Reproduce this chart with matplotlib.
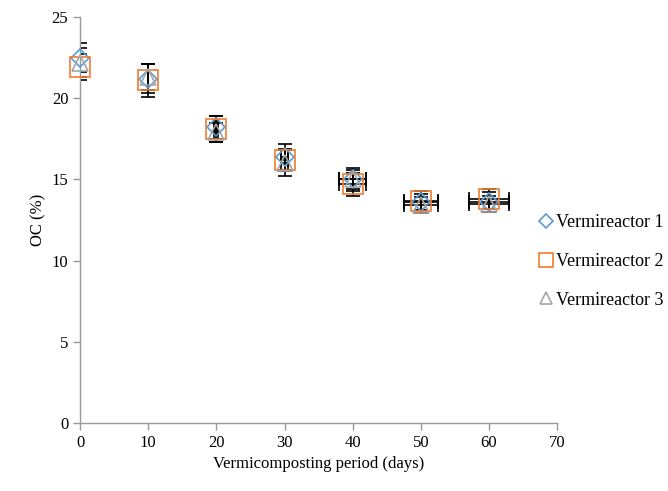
import matplotlib
matplotlib.use("Agg")
import matplotlib.pyplot as plt
import numpy as np

days = [0, 10, 20, 30, 40, 50, 60]
v1 = [22.5, 21.2, 18.2, 16.4, 15.0, 13.6, 13.6]
v2 = [21.9, 21.1, 18.1, 16.2, 14.7, 13.7, 13.8]
v3 = [22.2, 21.3, 17.9, 16.0, 15.0, 13.4, 13.5]
yerr1 = [0.9, 0.9, 0.7, 0.8, 0.6, 0.5, 0.6]
yerr2 = [0.8, 1.0, 0.8, 0.7, 0.7, 0.6, 0.6]
yerr3 = [0.9, 0.8, 0.6, 0.8, 0.7, 0.5, 0.5]
xerr1 = [0, 0, 0.3, 0.5, 2.0, 2.5, 3.0]
xerr2 = [0, 0, 0.3, 0.5, 2.0, 2.5, 3.0]
xerr3 = [0, 0, 0.3, 0.5, 2.0, 2.5, 3.0]
labels = ["Vermireactor 1", "Vermireactor 2", "Vermireactor 3"]

plt.rcParams['font.family'] = ['Liberation Serif', 'DejaVu Serif']

fig = plt.figure(figsize=(6.68, 4.91), dpi=100)
ax = fig.add_axes([0.12, 0.139, 0.714, 0.826])

series = [
    (v1, yerr1, xerr1, 'D', '#5B9BD5', 9),
    (v2, yerr2, xerr2, 's', '#ED7D31', 15),
    (v3, yerr3, xerr3, '^', '#A5A5A5', 12),
]
handles = []
for (vals, ye, xe, m, c, ms), lab in zip(series, labels):
    ax.errorbar(days, vals, yerr=ye, xerr=xe, fmt='none', ecolor='black',
                elinewidth=1.2, capsize=5, capthick=1.2, zorder=2)
    h, = ax.plot(days, vals, linestyle='none', marker=m, markersize=ms,
                 markerfacecolor='none', markeredgecolor=c, markeredgewidth=1.2,
                 label=lab, zorder=3, clip_on=False)
    handles.append(h)

ax.set_xlim(0, 70)
ax.set_ylim(0, 25)
ax.set_xticks(range(0, 71, 10))
ax.set_yticks(range(0, 26, 5))
for s in ['top', 'right']:
    ax.spines[s].set_visible(False)
for s in ['left', 'bottom']:
    ax.spines[s].set_color('#9a9a9a')
    ax.spines[s].set_linewidth(1.0)
ax.tick_params(axis='both', direction='out', color='#9a9a9a', length=5,
               labelsize=12, width=1.0)
ax.set_xlabel("Vermicomposting period (days)", fontsize=12)
ax.set_ylabel("OC (%)", fontsize=12)

leg = ax.legend(handles=handles, loc='center left', bbox_to_anchor=(0.962, 0.398),
                frameon=False, fontsize=13, handlelength=0.75, handletextpad=0.2,
                labelspacing=1.2, borderaxespad=0, borderpad=0)
for lh, s in zip(leg.legend_handles, [7, 10, 8]):
    lh.set_markersize(s)

fig.savefig("out.png", dpi=100)
